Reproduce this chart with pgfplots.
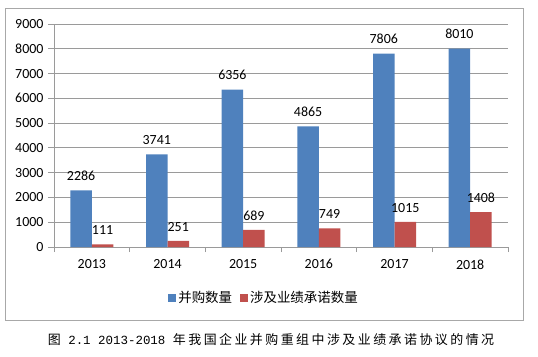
\documentclass[border=0pt]{standalone}
\usepackage{pgfplots}
\pgfplotsset{compat=1.18}
\usepackage{fontspec}
\setmainfont{Carlito}
\newfontfamily\cjk{Noto Sans CJK SC}
\newfontfamily\cjkcap[LetterSpace=19]{Noto Sans CJK SC}
\newfontfamily\capmono{Liberation Mono}
\definecolor{sblue}{HTML}{4F81BD}
\definecolor{sred}{HTML}{C0504D}
\definecolor{gridc}{HTML}{9A9A9A}
\definecolor{framec}{HTML}{A8A8A8}
\begin{document}
\begin{tikzpicture}[x=1bp,y=1bp]
\useasboundingbox (0,0) rectangle (538,356);
\draw[framec, line width=0.8bp] (5,36) rectangle (523,348);
\begin{axis}[
  at={(54bp,109bp)}, anchor=south west,
  scale only axis, width=454bp, height=223bp,
  xmin=-0.5, xmax=5.5, ymin=0, ymax=9000,
  ytick distance=1000,
  xtick={0,...,5},
  xticklabels={2013,2014,2015,2016,2017,2018},
  minor xtick={-0.5,0.5,...,5.5},
  major x tick style={draw=none},
  minor x tick style={draw=gridc, line width=0.8bp},
  y tick style={draw=gridc, line width=0.8bp},
  tick align=outside,
  major tick length=6bp, minor tick length=5bp,
  axis x line*=bottom, axis y line*=left,
  axis line style={draw=gridc, line width=0.8bp, -},
  ymajorgrids, grid style={draw=gridc, line width=0.8bp},
  ybar=0pt, bar width=21.5bp,
  /pgf/number format/assume math mode=true,
  /pgf/number format/1000 sep={},
  tick label style={font=\fontsize{14}{16}\selectfont},
  xticklabel style={yshift=-3bp},
  yticklabel style={xshift=-1bp},
  nodes near coords,
  nodes near coords style={font=\fontsize{14}{16}\selectfont, anchor=south, yshift=6bp, /pgf/number format/1000 sep={}},
  legend columns=2,
  legend style={at={(0.4626,-0.2287)}, anchor=center, draw=none, fill=none,
    font=\cjk\fontsize{13.5}{15}\selectfont,
    /tikz/every even column/.append style={column sep=6bp}},
  legend image code/.code={\fill[#1] (0bp,-4bp) rectangle (8bp,4bp);},
]
\addplot[fill=sblue, draw=none] coordinates {(0,2286) (1,3741) (2,6356) (3,4865) (4,7806) (5,8010)};
\addplot[fill=sred, draw=none] coordinates {(0,111) (1,251) (2,689) (3,749) (4,1015) (5,1408)};
\legend{并购数量,涉及业绩承诺数量}
\end{axis}
\node[font=\cjkcap\fontsize{13}{15}\selectfont, inner sep=0pt] at (271,16) {图{\capmono\fontsize{12.5}{15}\selectfont\ 2.1 2013-2018\ }年我国企业并购重组中涉及业绩承诺协议的情况};
\end{tikzpicture}
\end{document}
